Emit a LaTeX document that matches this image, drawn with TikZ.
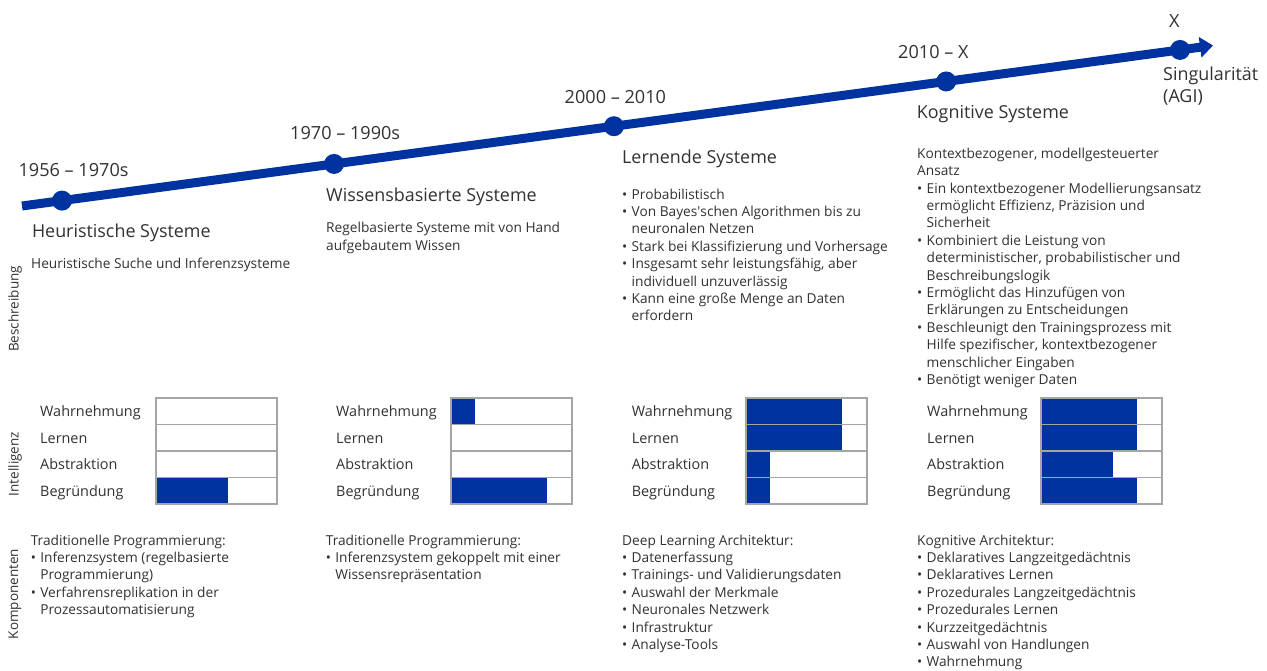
\documentclass[tikz,border=0pt]{standalone}
\usepackage{fontspec}
\setmainfont{Open Sans}
\usetikzlibrary{arrows.meta,backgrounds,positioning,calc}
\definecolor{tlblue}{RGB}{0,51,160}
\definecolor{txtgray}{RGB}{50,50,50}
\definecolor{boxgray}{RGB}{165,165,165}
\newcommand{\bl}{\makebox[9.5pt][l]{\textbullet}}
\newcommand{\hi}{\hspace*{9.5pt}}
\tikzset{
        yearlbl/.style={anchor=base west, inner sep=0pt, text=txtgray, font=\fontsize{18.1}{21.5}\selectfont},
        systitle/.style={anchor=base west, inner sep=0pt, text=txtgray, align=left, font=\fontsize{17.9}{21.5}\selectfont},
        desc/.style={anchor=base west, inner sep=0pt, text=txtgray, align=left, font=\fontsize{13.7}{17.4}\selectfont},
        rowlbl/.style={anchor=base west, inner sep=0pt, text=txtgray, font=\fontsize{14.4}{17}\selectfont},
        cell/.style={draw=boxgray, line width=1.3pt, minimum width=121pt, minimum height=26.5pt, inner sep=0pt},
        sidelbl/.style={rotate=90, inner sep=0pt, text=txtgray, font=\fontsize{13.5}{15}\selectfont},
        dot/.style={circle, fill=tlblue, inner sep=0pt, minimum size=20pt},
        timeline/.style={draw=tlblue, line width=9pt, -{Triangle[length=13pt,width=20pt]}}
    }
\begin{document}
\begin{tikzpicture}[x=1pt, y=-1pt]
    \path[use as bounding box] (0,0) rectangle (1267,671);
    \begin{scope}[on background layer]
        \fill[white] (0,0) rectangle (1267,671);
    \end{scope}

    % timeline with the five epochs
    \coordinate (tls) at (22,206);
    \coordinate (tle) at (1213,45.5);
    \draw[timeline] (tls) -- (tle);
    \foreach \p [count=\i] in {0.0336,0.262,0.497,0.776,0.9723}
        \node[dot] (d\i) at ($(tls)!\p!(tle)$) {};

    \node[yearlbl] (y1) at (18.4,176.7) {1956 – 1970s};
    \node[yearlbl] (y2) at (290,140) {1970 – 1990s};
    \node[yearlbl] (y3) at (564.5,104) {2000 – 2010};
    \node[yearlbl] (y4) at (898,59) {2010 – X};
    \node[yearlbl] (y5) at (1169,27.3) {X};

    % multi-line nodes are placed at the baseline of their last line
    \node[systitle] (h1) at (31.8,237.3) {Heuristische Systeme};
    \node[systitle] (h2) at (326,201.7) {Wissensbasierte Systeme};
    \node[systitle] (h3) at (622,163.3) {Lernende Systeme};
    \node[systitle] (h4) at (916.7,119) {Kognitive Systeme};
    \node[systitle] (h5) at (1163,102.5) {Singularität\\(AGI)};

    % row headings on the left
    \node[sidelbl] (sb) at (15,309) {Beschreibung};
    \node[sidelbl] (si) at (15,464) {Intelligenz};
    \node[sidelbl] (sk) at (15,594) {Komponenten};

    % descriptions
    \node[desc] (s1) at (31,268.3) {Heuristische Suche und Inferenzsysteme};
    \node[desc] (s2) at (326,250.1) {Regelbasierte Systeme mit von Hand\\aufgebautem Wissen};
    \node[desc] (s3) at (622,320.8) {\bl Probabilistisch\\
        \bl Von Bayes\textquotesingle schen Algorithmen bis zu\\
        \hi neuronalen Netzen\\
        \bl Stark bei Klassifizierung und Vorhersage\\
        \bl Insgesamt sehr leistungsfähig, aber\\
        \hi individuell unzuverlässig\\
        \bl Kann eine große Menge an Daten\\
        \hi erfordern};
    \node[desc] (s4) at (917,384.5) {Kontextbezogener, modellgesteuerter\\
        Ansatz\\
        \bl Ein kontextbezogener Modellierungsansatz\\
        \hi ermöglicht Effizienz, Präzision und\\
        \hi Sicherheit\\
        \bl Kombiniert die Leistung von\\
        \hi deterministischer, probabilistischer und\\
        \hi Beschreibungslogik\\
        \bl Ermöglicht das Hinzufügen von\\
        \hi Erklärungen zu Entscheidungen\\
        \bl Beschleunigt den Trainingsprozess mit\\
        \hi Hilfe spezifischer, kontextbezogener\\
        \hi menschlicher Eingaben\\
        \bl Benötigt weniger Daten};

    % intelligence bars
    \foreach \g/\lx/\bx in {1/40/156, 2/336/451, 3/631.6/746, 4/927/1041}{
        \foreach \r/\name in {1/Wahrnehmung, 2/Lernen, 3/Abstraktion, 4/Begründung}{
            \node[rowlbl] (l\g\r) at (\lx, 390.25+26.5*\r) {\name};
            \node[cell] (c\g\r) at (\bx+60.5, 384.75+26.5*\r) {};
        }
    }
    \begin{scope}[on background layer]
        \foreach \c/\w in {14/0.6, 21/0.2, 24/0.8, 31/0.8, 32/0.8, 33/0.2, 34/0.2, 41/0.8, 42/0.8, 43/0.6, 44/0.8}
            \fill[tlblue] (c\c.north west) rectangle ++(\w*121, 26.5);
    \end{scope}

    % components
    \node[desc] (k1) at (30.6,614.6) {Traditionelle Programmierung:\\
        \bl Inferenzsystem (regelbasierte\\
        \hi Programmierung)\\
        \bl Verfahrensreplikation in der\\
        \hi Prozessautomatisierung};
    \node[desc] (k2) at (325.7,579.8) {Traditionelle Programmierung:\\
        \bl Inferenzsystem gekoppelt mit einer\\
        \hi Wissensrepräsentation};
    \node[desc] (k3) at (622,649.4) {Deep Learning Architektur:\\
        \bl Datenerfassung\\
        \bl Trainings- und Validierungsdaten\\
        \bl Auswahl der Merkmale\\
        \bl Neuronales Netzwerk\\
        \bl Infrastruktur\\
        \bl Analyse-Tools};
    \node[desc] (k4) at (917,666.8) {Kognitive Architektur:\\
        \bl Deklaratives Langzeitgedächtnis\\
        \bl Deklaratives Lernen\\
        \bl Prozedurales Langzeitgedächtnis\\
        \bl Prozedurales Lernen\\
        \bl Kurzzeitgedächtnis\\
        \bl Auswahl von Handlungen\\
        \bl Wahrnehmung};
\end{tikzpicture}
\end{document}
